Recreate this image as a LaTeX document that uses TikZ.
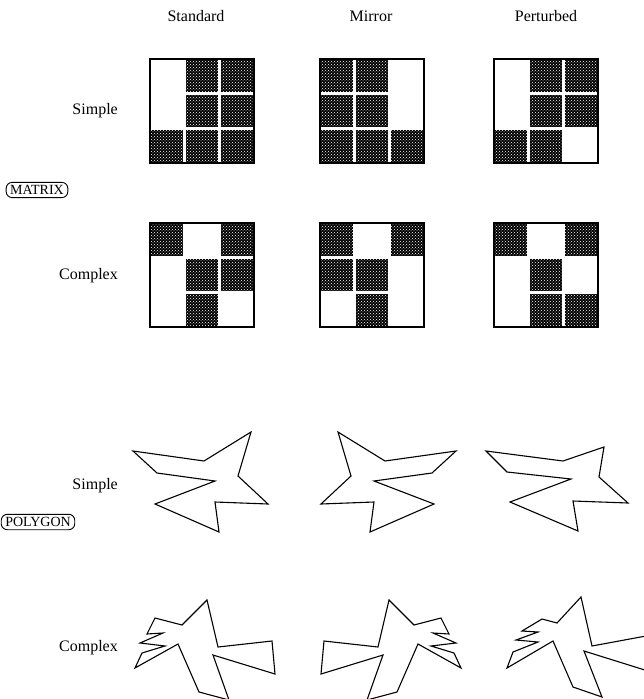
\documentclass[tikz,border=0pt]{standalone}
\usepackage{fontspec}
\setmainfont{Liberation Serif}
\usetikzlibrary{patterns}
\newcommand\dk[4]{\fill[dark] ({#1+#3*34.667+1.2},{#2+#4*34.667+1.2}) rectangle ({#1+(#3+1)*34.667-1.2},{#2+(#4+1)*34.667-1.2});}
\begin{document}
\begin{tikzpicture}[x=1pt,y=-1pt,
  lbl/.style={font=\fontsize{16}{18}\selectfont, inner sep=0pt},
  rowlbl/.style={lbl, anchor=east},
  tag/.style={font=\fontsize{14}{16}\selectfont, draw, rounded corners=6pt, line width=0.9pt, inner xsep=4pt, inner ysep=3pt},
  frame/.style={draw, line width=1.4pt},
  dark/.style={preaction={fill=black}, pattern=crosshatch dots, pattern color=white},
  poly/.style={draw, line width=1.1pt, line join=miter}]
\useasboundingbox (0,0) rectangle (644,699);
\clip (0,0) rectangle (644,699);
% headers
\node[lbl] (hstd) at (196,16) {Standard};
\node[lbl] (hmir) at (371,16) {Mirror};
\node[lbl] (hper) at (546,16) {Perturbed};
% matrix labels
\node[rowlbl] (msimple) at (118,111) {Simple};
\node[tag] (mtag) at (37,190) {MATRIX};
\node[rowlbl] (mcomplex) at (118,276) {Complex};
% simple standard
\draw[frame] (150,59) rectangle ++(104,104);
\dk{150}{59}{1}{0}\dk{150}{59}{2}{0}\dk{150}{59}{1}{1}\dk{150}{59}{2}{1}\dk{150}{59}{0}{2}\dk{150}{59}{1}{2}\dk{150}{59}{2}{2}
% simple mirror
\draw[frame] (320,59) rectangle ++(104,104);
\dk{320}{59}{0}{0}\dk{320}{59}{1}{0}\dk{320}{59}{0}{1}\dk{320}{59}{1}{1}\dk{320}{59}{0}{2}\dk{320}{59}{1}{2}\dk{320}{59}{2}{2}
% simple perturbed
\draw[frame] (494,59) rectangle ++(104,104);
\dk{494}{59}{1}{0}\dk{494}{59}{2}{0}\dk{494}{59}{1}{1}\dk{494}{59}{2}{1}\dk{494}{59}{0}{2}\dk{494}{59}{1}{2}
% complex standard
\draw[frame] (150,223) rectangle ++(104,104);
\dk{150}{223}{0}{0}\dk{150}{223}{2}{0}\dk{150}{223}{1}{1}\dk{150}{223}{2}{1}\dk{150}{223}{1}{2}
% complex mirror
\draw[frame] (320,223) rectangle ++(104,104);
\dk{320}{223}{0}{0}\dk{320}{223}{2}{0}\dk{320}{223}{0}{1}\dk{320}{223}{1}{1}\dk{320}{223}{1}{2}
% complex perturbed
\draw[frame] (494,223) rectangle ++(104,104);
\dk{494}{223}{0}{0}\dk{494}{223}{2}{0}\dk{494}{223}{1}{1}\dk{494}{223}{1}{2}\dk{494}{223}{2}{2}
% polygon labels
\node[rowlbl] (psimple) at (118,486) {Simple};
\node[tag] (ptag) at (38,522) {POLYGON};
\node[rowlbl] (pcomplex) at (118,648) {Complex};
% simple polygons
\draw[poly] (133,451) -- (204,461) -- (251,432) -- (238,476) -- (268,504) -- (215,502) -- (219,532) -- (155,504) -- (215,481) -- (157,473) -- cycle;
\draw[poly] (456,451) -- (385,461) -- (338,432) -- (351,476) -- (321,504) -- (374,502) -- (370,532) -- (434,504) -- (374,481) -- (432,473) -- cycle;
\draw[poly] (486,451) -- (563,461) -- (604,447) -- (599,477) -- (628,503) -- (573,501) -- (578,531) -- (510,502) -- (571,479) -- (507,472) -- cycle;
% complex polygons
\draw[poly] (155,618) -- (147,634) -- (163,633) -- (140,643) -- (165,646) -- (142,653) -- (135,668) -- (178,644) -- (199,692) -- (229,700) -- (213,655) -- (275,674) -- (272,641) -- (218,647) -- (207,600) -- (182,625) -- cycle;
\draw[poly] (441,618) -- (449,634) -- (433,633) -- (456,643) -- (431,646) -- (454,653) -- (461,668) -- (418,644) -- (397,692) -- (367,700) -- (383,655) -- (321,674) -- (324,641) -- (378,647) -- (389,600) -- (414,625) -- cycle;
\draw[poly] (542,619) -- (522,631) -- (538,632) -- (516,640) -- (538,642) -- (513,652) -- (507,668) -- (553,641) -- (573,687) -- (602,697) -- (584,651) -- (648,671) -- (646,636) -- (592,646) -- (581,597) -- (557,623) -- cycle;
\end{tikzpicture}
\end{document}
